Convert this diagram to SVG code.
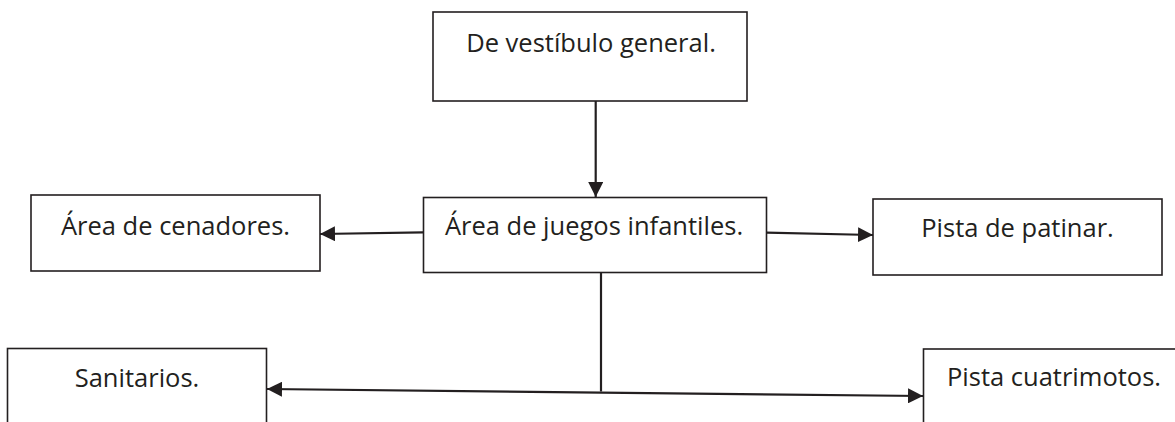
<svg xmlns="http://www.w3.org/2000/svg" width="1175" height="422" viewBox="0 0 1175 422">
<style>
.box{fill:#fff;stroke:#231f20;stroke-width:1.6}
.lbl{font-family:"Open Sans","Noto Sans",sans-serif;font-size:25.5px;fill:#231f20;text-anchor:middle}
.con{fill:none;stroke:#231f20;stroke-width:2.2}
</style>
<defs>
<marker id="ah" markerUnits="userSpaceOnUse" markerWidth="16" markerHeight="15" refX="15" refY="7.5" orient="auto-start-reverse">
<path d="M0,0 L15,7.5 L0,15 Z" fill="#231f20"/>
</marker>
</defs>
<rect width="1175" height="422" fill="#fff"/>
<g id="n-vestibulo"><rect class="box" x="433" y="12" width="314" height="89"/><text class="lbl" x="591" y="52">De vestíbulo general.</text></g>
<g id="n-juegos"><rect class="box" x="423.5" y="197.5" width="343" height="75"/><text class="lbl" x="594" y="235">Área de juegos infantiles.</text></g>
<g id="n-cenadores"><rect class="box" x="31" y="195" width="289" height="76"/><text class="lbl" x="175.5" y="235">Área de cenadores.</text></g>
<g id="n-patinar"><rect class="box" x="873" y="199" width="289" height="76"/><text class="lbl" x="1017.5" y="237">Pista de patinar.</text></g>
<g id="n-sanitarios"><rect class="box" x="7.5" y="348.5" width="259" height="90"/><text class="lbl" x="137" y="387">Sanitarios.</text></g>
<g id="n-cuatrimotos"><rect class="box" x="923.5" y="349" width="260" height="90"/><text class="lbl" x="1054" y="386">Pista cuatrimotos.</text></g>
<g id="connectors">
<line class="con" x1="595.7" y1="101" x2="595.7" y2="197" marker-end="url(#ah)"/>
<line class="con" x1="423" y1="232.3" x2="320" y2="234" marker-end="url(#ah)"/>
<line class="con" x1="766.5" y1="232.7" x2="873" y2="235" marker-end="url(#ah)"/>
<line class="con" x1="601" y1="272.7" x2="601" y2="391.5"/>
<line class="con" x1="267" y1="389" x2="923" y2="396" marker-start="url(#ah)" marker-end="url(#ah)"/>
</g>
</svg>
